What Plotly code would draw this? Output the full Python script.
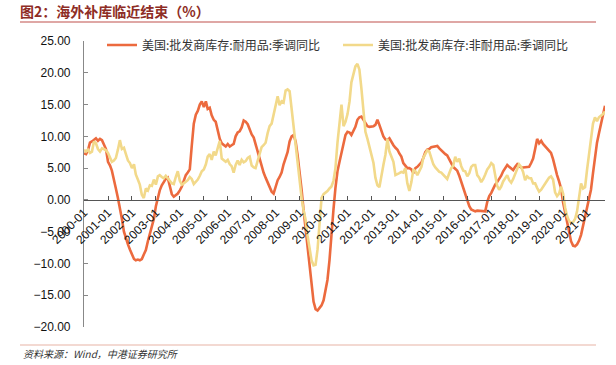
import pandas as pd
import plotly.graph_objects as go

# Monthly observations, 2000-01 .. 2021-10
months = pd.date_range("2000-01-01", periods=262, freq="MS")

durable = [
    # 2000
    7.3, 7.2, 7.8, 9.0, 9.2, 9.4, 9.7, 9.3, 9.6, 9.4, 8.6, 8.0,
    # 2001
    6.0, 5.4, 4.6, 3.4, 1.8, 0.3, -1.2, -3.0, -5.0, -6.2, -7.0, -7.8,
    # 2002
    -8.7, -9.3, -9.5, -9.4, -9.5, -9.3, -8.6, -7.9, -6.5, -5.2, -4.3, -3.0,
    # 2003
    -1.0, 0.3, 1.5, 2.3, 2.9, 3.3, 3.5, 2.2, 0.9, 0.5, 0.7, 1.0,
    # 2004
    1.5, 2.1, 3.0, 3.9, 4.3, 4.8, 8.5, 12.0, 13.4, 14.0, 15.0, 15.5,
    # 2005
    14.6, 15.5, 14.3, 14.5, 13.3, 12.6, 12.3, 10.8, 9.6, 8.9, 8.6, 8.4,
    # 2006
    8.8, 8.4, 8.6, 8.8, 10.0, 10.6, 10.8, 11.4, 12.5, 12.3, 11.9, 11.0,
    # 2007
    10.3, 9.8, 8.8, 7.8, 6.4, 5.2, 4.3, 3.5, 2.8, 2.0, 1.3, 1.0,
    # 2008
    2.0, 3.1, 3.6, 4.3, 5.6, 6.6, 7.5, 9.2, 10.0, 10.2, 9.2, 7.0,
    # 2009
    4.5, 1.5, -1.5, -4.5, -7.0, -10.5, -13.5, -16.0, -17.2, -17.4, -17.0, -16.6,
    # 2010
    -15.8, -14.2, -12.6, -9.5, -5.0, -1.5, 1.9, 4.5, 6.0, 7.3, 8.7, 10.2,
    # 2011
    10.7, 10.6, 10.2, 10.8, 11.5, 12.6, 13.0, 13.1, 12.6, 12.1, 11.6, 11.5,
    # 2012
    11.5, 11.6, 11.8, 12.6, 11.8, 10.8, 10.0, 9.5, 9.4, 9.7, 9.0, 8.6,
    # 2013
    8.2, 7.9, 7.3, 6.8, 5.8, 5.3, 5.0, 5.0, 4.8, 4.2, 5.0, 5.2,
    # 2014
    5.6, 5.9, 6.6, 7.5, 7.9, 8.0, 8.3, 8.4, 8.5, 8.5, 8.1, 7.8,
    # 2015
    7.4, 7.2, 7.0, 6.3, 5.8, 5.2, 4.9, 4.6, 3.8, 2.8, 1.9, 1.0,
    # 2016
    0.0, -1.0, -1.5, -1.7, -1.8, -1.7, -1.7, -1.8, -1.7, -1.8, -0.3, 0.6,
    # 2017
    1.1, 1.9, 2.4, 2.8, 3.2, 3.8, 4.5, 5.1, 5.5, 5.2, 4.9, 4.7,
    # 2018
    5.2, 5.6, 5.3, 5.1, 5.1, 5.1, 5.1, 5.2, 5.8, 6.5, 8.0, 9.6,
    # 2019
    8.9, 9.3, 8.8, 8.4, 8.0, 7.7, 7.4, 6.4, 5.0, 3.9, 2.9, 1.8,
    # 2020
    -0.4, -2.0, -3.4, -5.2, -6.5, -7.2, -7.3, -7.0, -6.4, -5.5, -4.0, -2.6,
    # 2021
    -1.2, 0.2, 1.6, 4.2, 7.0, 9.0, 10.5, 11.8, 13.2, 14.8,
]

nondurable = [
    # 2000
    7.9, 7.6, 7.9, 7.4, 7.6, 9.2, 8.9, 8.0, 7.6, 8.1, 8.0, 7.8,
    # 2001
    7.4, 6.5, 6.0, 6.2, 6.6, 7.9, 9.4, 8.0, 8.2, 7.2, 6.2, 5.8,
    # 2002
    5.0, 5.6, 4.0, 3.2, 2.4, 0.8, 0.3, 1.8, 1.5, 2.3, 2.2, 3.2,
    # 2003
    2.4, 3.7, 3.9, 3.6, 3.4, 3.8, 3.3, 3.0, 2.6, 2.5, 3.6, 4.5,
    # 2004
    3.0, 2.4, 2.6, 2.9, 3.1, 3.6, 3.3, 2.5, 2.9, 3.2, 3.8, 4.5,
    # 2005
    4.8, 5.6, 6.8, 7.2, 6.3, 7.6, 7.0, 8.2, 9.3, 6.5, 6.2, 6.0,
    # 2006
    6.3, 5.6, 5.3, 4.3, 5.5, 6.2, 5.5, 6.3, 5.9, 6.1, 6.6, 6.8,
    # 2007
    5.4, 5.1, 5.0, 6.2, 7.3, 8.3, 8.6, 9.0, 10.5, 11.6, 12.0, 13.4,
    # 2008
    15.1, 16.3, 14.9, 15.5, 15.3, 17.2, 17.4, 17.1, 14.3, 11.4, 8.4, 5.5,
    # 2009
    2.3, 0.2, -1.6, -3.1, -5.6, -7.8, -9.5, -10.3, -10.2, -7.8, -3.5, 0.3,
    # 2010
    0.9, 1.1, 1.4, 1.8, 2.1, 3.0, 5.0, 9.0, 12.0, 15.0, 11.6, 12.3,
    # 2011
    13.5, 15.5, 18.5, 19.6, 21.0, 21.4, 20.5, 17.5, 13.6, 10.7, 9.6, 8.5,
    # 2012
    7.3, 5.8, 3.5, 2.3, 2.0, 3.5, 5.5, 7.1, 9.6, 7.6, 6.7, 6.0,
    # 2013
    3.9, 4.0, 4.2, 4.4, 4.3, 5.0, 2.6, 1.4, 2.8, 4.8, 4.5, 3.9,
    # 2014
    4.5, 5.2, 6.6, 7.3, 7.8, 7.6, 6.5, 5.6, 5.1, 4.8, 4.4, 4.3,
    # 2015
    4.0, 3.6, 3.3, 4.2, 5.0, 5.4, 6.8, 6.0, 6.5, 5.3, 4.6, 4.5,
    # 2016
    3.7, 4.2, 5.2, 5.5, 5.5, 3.9, 3.5, 2.8, 3.3, 4.0, 4.8, 5.2,
    # 2017
    5.8, 5.5, 3.9, 2.2, 1.6, 2.1, 2.9, 3.4, 3.9, 3.1, 2.7, 3.3,
    # 2018
    4.2, 4.8, 5.6, 5.2, 4.4, 3.1, 3.7, 3.4, 3.4, 2.6, 2.6, 1.9,
    # 2019
    1.3, 1.6, 2.0, 2.4, 3.0, 3.5, 3.7, 3.2, 1.2, 0.6, 1.0, 2.1,
    # 2020
    1.0, -1.2, -2.5, -3.3, -3.6, -3.5, -3.0, -1.8, 0.6, 2.6, 1.8, 2.0,
    # 2021
    4.8, 7.3, 10.4, 12.0, 13.0, 12.4, 13.0, 13.2, 13.5, 13.9,
]

name_durable = "美国:批发商库存:耐用品:季调同比"
name_nondurable = "美国:批发商库存:非耐用品:季调同比"
title_text = "图2：海外补库临近结束（%）"
source_text = "资料来源：Wind，中港证券研究所"

W, H = 616, 365
ML, MR, MT, MB = 84, 11, 41, 38
PW, PH = W - ML - MR, H - MT - MB
YMIN, YMAX = -20, 25


def px_x(p):
    return (p - ML) / PW


def px_y(p):
    return (H - MB - p) / PH


fig = go.Figure()
fig.add_trace(go.Scatter(x=months, y=durable, name=name_durable, mode="lines",
                         line=dict(color="#EC6A3E", width=2.6)))
fig.add_trace(go.Scatter(x=months, y=nondurable, name=name_nondurable, mode="lines",
                         line=dict(color="#F2D98A", width=2.6)))

cjk = "Noto Sans CJK SC"
num_font = dict(family="Liberation Sans, Arial", size=12, color="#111")

fig.update_layout(
    width=W, height=H,
    margin=dict(l=ML, r=MR, t=MT, b=MB, autoexpand=False),
    paper_bgcolor="white", plot_bgcolor="white",
    showlegend=True,
    legend=dict(orientation="h", xref="container", yref="container",
                x=102 / W, y=1 - 45 / H, xanchor="left", yanchor="middle",
                font=dict(family=cjk, size=12, color="#333"),
                bgcolor="rgba(0,0,0,0)", tracegroupgap=0,
                entrywidth=191, entrywidthmode="pixels", itemwidth=30),
    title=dict(text="<b>" + title_text + "</b>", x=20 / W, y=1 - 12 / H,
               xref="container", yref="container", xanchor="left", yanchor="middle",
               font=dict(family=cjk, size=14, color="#8E2D25")),
    xaxis=dict(
        type="date", range=[months[0], months[-1]],
        anchor="free", position=(0 - YMIN) / (YMAX - YMIN),
        showgrid=False, zeroline=False,
        showline=True, linecolor="#555", linewidth=1,
        ticks="inside", ticklen=4, tickcolor="#555",
        tick0="2000-01-01", dtick="M12", tickformat="%Y-%m",
        tickangle=-45, tickfont=num_font, automargin=False,
    ),
    yaxis=dict(
        range=[YMIN, YMAX], dtick=5, tickformat=".2f",
        showgrid=False, zeroline=False,
        showline=True, linecolor="#888", linewidth=1.2,
        ticks="inside", ticklen=4, tickcolor="#888",
        tickfont=num_font, ticklabelstandoff=10, automargin=False,
    ),
    shapes=[
        dict(type="line", xref="paper", yref="paper", x0=px_x(20), x1=px_x(596),
             y0=px_y(22), y1=px_y(22), line=dict(color="#C0504D", width=1.2)),
        dict(type="line", xref="paper", yref="paper", x0=px_x(20), x1=px_x(596),
             y0=px_y(345), y1=px_y(345), line=dict(color="#E8B4A6", width=1.2)),
    ],
    annotations=[
        dict(text="<i>" + source_text + "</i>", xref="paper", yref="paper",
             x=px_x(21), y=px_y(353), xanchor="left", yanchor="middle", showarrow=False,
             font=dict(family=cjk, size=10, color="#333")),
    ],
)

fig.write_html("out.html",
               config={"displayModeBar": False},
               post_script="document.body.style.margin='0px';document.body.style.padding='0px';")
